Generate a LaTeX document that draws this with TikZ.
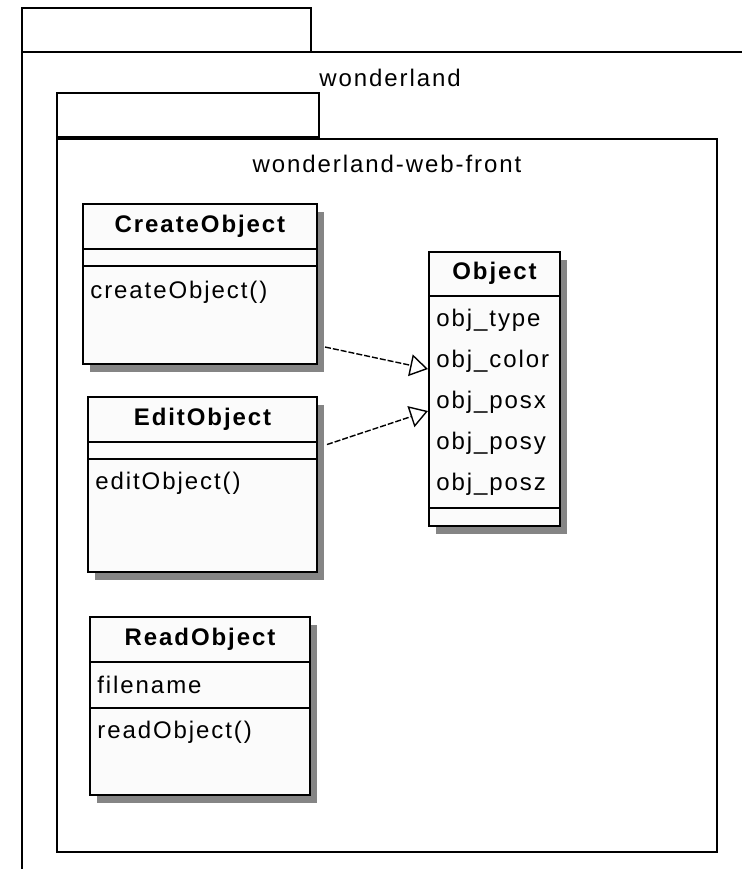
\documentclass[tikz,border=0pt]{standalone}
\usepackage{fontspec}
\setmainfont{Liberation Sans}[LetterSpace=8]
\usetikzlibrary{positioning,calc,arrows.meta,shadows}

\begin{document}
\begin{tikzpicture}[
    x=0.5pt, y=-0.5pt,
    every node/.style={font=\fontsize{12}{14}\selectfont},
    pkg/.style={draw, line width=1pt, anchor=north west, inner sep=0pt},
    cls/.style={%
      draw,
      line width=1pt,
      fill=white!98.5!black,
      anchor=north west,
      inner sep=0pt,
      drop shadow={shadow xshift=3.5pt, shadow yshift=-4pt, opacity=1, fill=black!48},
    },
    clsname/.style={font=\fontsize{12}{14}\selectfont\bfseries},
    member/.style={anchor=west, inner sep=0pt},
    sep/.style={line width=1pt},
    realize/.style={dash pattern=on 3pt off 1pt, line width=0.7pt,
      -{Triangle[open,length=9pt,width=11pt]}},
  ]
    \useasboundingbox (0,0) rectangle (742,869);

    % outer package
    \draw[line width=1pt] (742,52) -- (22,52) -- (22,869);
    \draw[line width=1pt] (22,52) rectangle (311,8);
    \node (wl) at (390,78) {wonderland};

    % inner package
    \node [pkg, minimum width=330pt, minimum height=356.5pt] (web) at (56,138) {};
    \node [pkg, minimum width=131pt, minimum height=22pt, anchor=south west] (webtab) at (web.north west) {};
    \path (web.north) ++(0,26) node (webname) {wonderland-web-front};

    % classes
    \node [cls, minimum width=117pt, minimum height=80pt] (create) at (82,203) {};
    \path (create.north) ++(0,23) node [clsname] (createname) {CreateObject};
    \draw [sep] ($(create.north west)+(0,46)$) -- ($(create.north east)+(0,46)$);
    \draw [sep] ($(create.north west)+(0,63)$) -- ($(create.north east)+(0,63)$);
    \path (create.north west) ++(8,89) node [member] (createop) {createObject()};

    \node [cls, minimum width=114.5pt, minimum height=87.5pt] (edit) at (87,396) {};
    \path (edit.north) ++(0,23) node [clsname] (editname) {EditObject};
    \draw [sep] ($(edit.north west)+(0,46)$) -- ($(edit.north east)+(0,46)$);
    \draw [sep] ($(edit.north west)+(0,63)$) -- ($(edit.north east)+(0,63)$);
    \path (edit.north west) ++(8,87) node [member] (editop) {editObject()};

    \node [cls, minimum width=110pt, minimum height=89pt] (read) at (89,616) {};
    \path (read.north) ++(0,23) node [clsname] (readname) {ReadObject};
    \draw [sep] ($(read.north west)+(0,46)$) -- ($(read.north east)+(0,46)$);
    \draw [sep] ($(read.north west)+(0,92)$) -- ($(read.north east)+(0,92)$);
    \path (read.north west) ++(8,69) node [member] (readattr) {filename};
    \path (read.north west) ++(8,116) node [member] (readop) {readObject()};

    \node [cls, minimum width=65.5pt, minimum height=137pt] (object) at (428,251) {};
    \path (object.north) ++(0,22) node [clsname] (objectname) {Object};
    \draw [sep] ($(object.north west)+(0,45)$) -- ($(object.north east)+(0,45)$);
    \draw [sep] ($(object.north west)+(0,257)$) -- ($(object.north east)+(0,257)$);
    \foreach \attr [count=\i from 0] in {type,color,posx,posy,posz}
      \path (object.north west) ++(8,69+41*\i) node [member] (attr\i) {obj\_\attr};

    \draw [realize] ([xshift=3.5pt,yshift=-31.5pt]create.east) -- ([yshift=10pt]object.west);
    \draw [realize] ([xshift=4.5pt,yshift=20pt]edit.east) -- ([yshift=-11pt]object.west);
\end{tikzpicture}
\end{document}
